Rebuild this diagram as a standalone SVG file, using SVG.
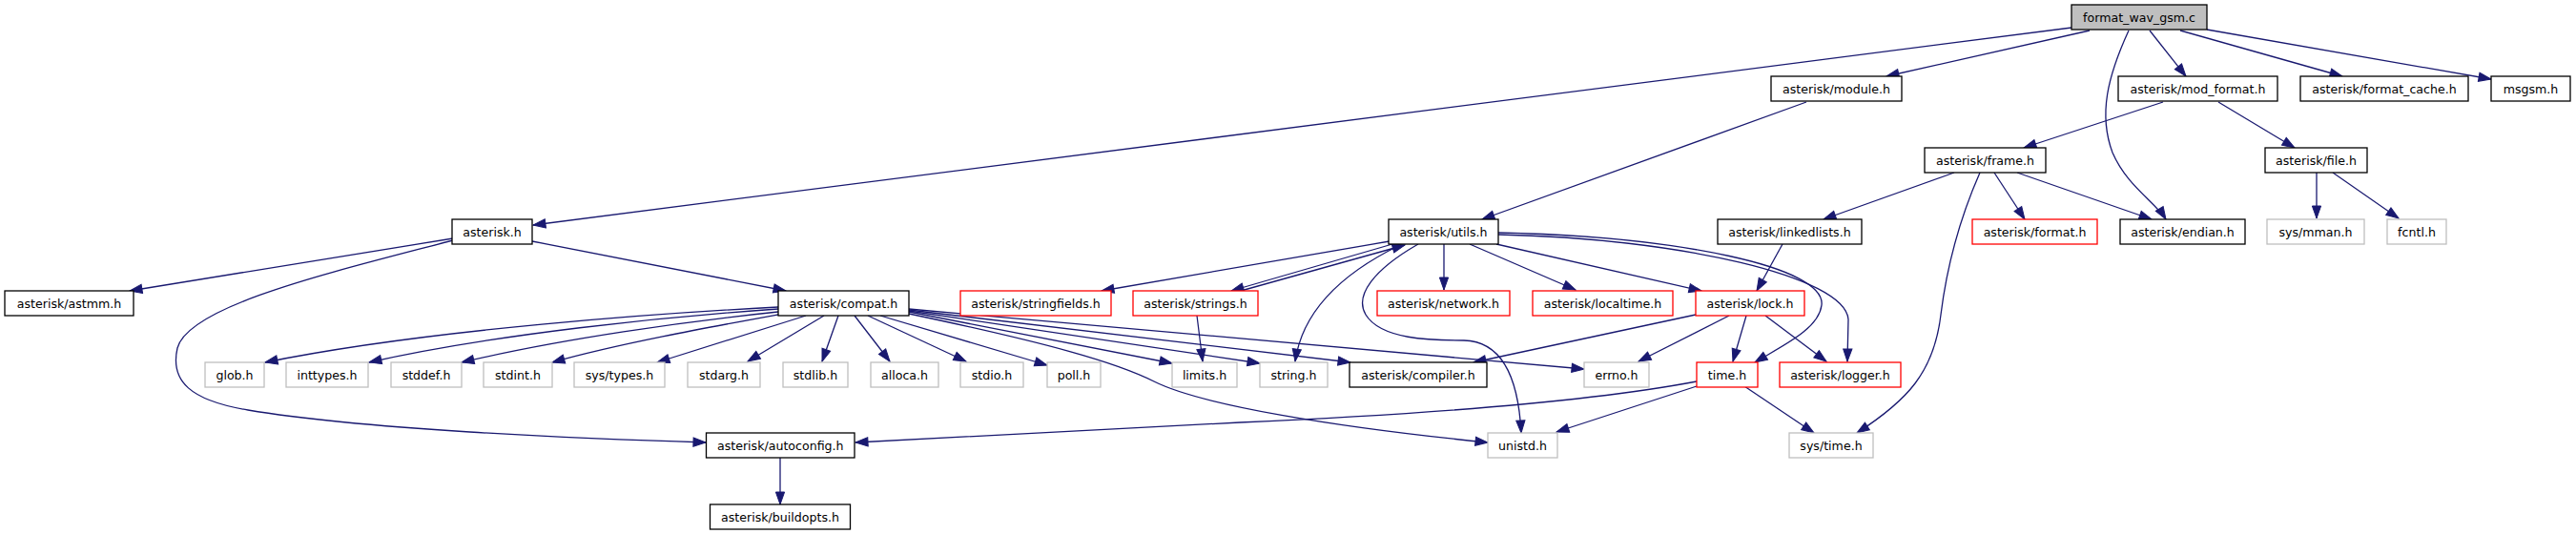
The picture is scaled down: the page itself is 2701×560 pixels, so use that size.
<svg xmlns="http://www.w3.org/2000/svg" width="2701" height="560" viewBox="0 0 2701 560">
<style>
.n rect{fill:#fff;stroke:#000;stroke-width:1.3}
.n.root rect{fill:#bfbfbf}
.n.red rect{stroke:#ff0000}
.n.gray rect{stroke:#bfbfbf}
.n text{font-family:"DejaVu Sans",sans-serif;font-size:12.6px;fill:#000;text-anchor:middle}
#edges path{fill:none;stroke:#191970;stroke-width:1.3;marker-end:url(#a)}
</style>
<defs>
<marker id="a" markerUnits="userSpaceOnUse" markerWidth="14" markerHeight="10" refX="13" refY="5" orient="auto" viewBox="0 0 14 10" overflow="visible">
<path d="M0,0.4 L13,5 L0,9.6z" fill="#191970" stroke="#191970" stroke-width="1"/>
</marker>
</defs>
<rect width="2701" height="560" fill="#fff"/>
<g id="edges">
<path d="M2172,29 L559,236"/>
<path d="M2191,32 L1978,80"/>
<path d="M2232,32 C2210,80 2200,120 2215,160 C2230,195 2260,212 2271,230"/>
<path d="M2254,32 L2292,80"/>
<path d="M2286,32 L2456,80"/>
<path d="M2314,31 L2612,83"/>
<path d="M1894,107 L1554,230"/>
<path d="M2268,107 L2122,155"/>
<path d="M2326,107 L2406,155"/>
<path d="M2049,181 L1912,230"/>
<path d="M2091,181 L2123,230"/>
<path d="M2115,181 L2256,230"/>
<path d="M2076,181 C2050,240 2040,290 2035,330 C2028,390 2000,420 1947,454"/>
<path d="M2429,181 L2429,229"/>
<path d="M2446,181 L2515,229"/>
<path d="M475,250 L136,305"/>
<path d="M558,253 L824,305"/>
<path d="M475,252 C350,285 198,320 186,365 C178,400 200,420 260,430 C380,450 600,460 740,464"/>
<path d="M1457,253 L1155,305"/>
<path d="M1460,256 L1291,305"/>
<path d="M1301,305 L1473,257"/>
<path d="M1468,257 C1400,290 1365,330 1358,379"/>
<path d="M1487,256 C1440,283 1420,310 1432,330 C1448,356 1500,357 1535,357 C1575,358 1592,395 1595,454"/>
<path d="M1514,256 L1514,304"/>
<path d="M1541,256 L1652,304"/>
<path d="M1569,256 L1784,305"/>
<path d="M1571,244 C1760,248 1915,280 1910,320 C1907,345 1870,362 1840,380"/>
<path d="M1571,246 C1760,250 1935,290 1938,335 L1937,379"/>
<path d="M1255,331 L1261,379"/>
<path d="M1869,256 L1842,305"/>
<path d="M1778,330 L1545,380"/>
<path d="M1813,331 L1718,379"/>
<path d="M1831,331 L1817,379"/>
<path d="M1851,331 L1915,379"/>
<path d="M1779,400 C1700,415 1550,432 1300,443 L897,464"/>
<path d="M1779,405 L1632,453"/>
<path d="M1829,405 L1902,454"/>
<path d="M816,322 C700,328 450,345 278,380"/>
<path d="M816,324 C700,332 520,350 387,380"/>
<path d="M816,327 C720,337 590,355 484,380"/>
<path d="M821,329 C750,342 650,360 579,380"/>
<path d="M845,331 L689,380"/>
<path d="M864,331 L784,379"/>
<path d="M879,331 L862,379"/>
<path d="M896,331 L933,379"/>
<path d="M910,331 L1013,379"/>
<path d="M923,331 L1098,383"/>
<path d="M953,327 L1229,381"/>
<path d="M953,326 L1321,381"/>
<path d="M953,325 L1416,380"/>
<path d="M953,324 L1661,387"/>
<path d="M953,329 C1100,360 1170,380 1210,400 C1260,425 1400,448 1560,464"/>
<path d="M818,480 L818,529"/>
</g>
<g id="n_fwg" class="n root"><rect x="2172" y="5" width="142" height="26"/><text x="2243" y="22.5">format_wav_gsm.c</text></g>
<g id="n_module" class="n"><rect x="1857" y="80" width="137" height="26"/><text x="1925.5" y="97.5">asterisk/module.h</text></g>
<g id="n_mod_format" class="n"><rect x="2221" y="80" width="167" height="26"/><text x="2304.5" y="97.5">asterisk/mod_format.h</text></g>
<g id="n_format_cache" class="n"><rect x="2412" y="80" width="176" height="26"/><text x="2500" y="97.5">asterisk/format_cache.h</text></g>
<g id="n_msgsm" class="n"><rect x="2612" y="80" width="83" height="26"/><text x="2653.5" y="97.5">msgsm.h</text></g>
<g id="n_frame" class="n"><rect x="2018" y="155" width="127" height="26"/><text x="2081.5" y="172.5">asterisk/frame.h</text></g>
<g id="n_file" class="n"><rect x="2375" y="155" width="107" height="26"/><text x="2428.5" y="172.5">asterisk/file.h</text></g>
<g id="n_asterisk" class="n"><rect x="474" y="230" width="84" height="26"/><text x="516" y="247.5">asterisk.h</text></g>
<g id="n_utils" class="n"><rect x="1456" y="230" width="115" height="26"/><text x="1513.5" y="247.5">asterisk/utils.h</text></g>
<g id="n_linkedlists" class="n"><rect x="1801" y="230" width="151" height="26"/><text x="1876.5" y="247.5">asterisk/linkedlists.h</text></g>
<g id="n_format" class="n red"><rect x="2068" y="230" width="131" height="26"/><text x="2133.5" y="247.5">asterisk/format.h</text></g>
<g id="n_endian" class="n"><rect x="2223" y="230" width="131" height="26"/><text x="2288.5" y="247.5">asterisk/endian.h</text></g>
<g id="n_mman" class="n gray"><rect x="2377" y="230" width="102" height="26"/><text x="2428" y="247.5">sys/mman.h</text></g>
<g id="n_fcntl" class="n gray"><rect x="2503" y="230" width="62" height="26"/><text x="2534" y="247.5">fcntl.h</text></g>
<g id="n_astmm" class="n"><rect x="5" y="305" width="135" height="26"/><text x="72.5" y="322.5">asterisk/astmm.h</text></g>
<g id="n_compat" class="n"><rect x="816" y="305" width="137" height="26"/><text x="884.5" y="322.5">asterisk/compat.h</text></g>
<g id="n_stringfields" class="n red"><rect x="1007" y="305" width="158" height="26"/><text x="1086" y="322.5">asterisk/stringfields.h</text></g>
<g id="n_strings" class="n red"><rect x="1188" y="305" width="131" height="26"/><text x="1253.5" y="322.5">asterisk/strings.h</text></g>
<g id="n_network" class="n red"><rect x="1444" y="305" width="139" height="26"/><text x="1513.5" y="322.5">asterisk/network.h</text></g>
<g id="n_localtime" class="n red"><rect x="1607" y="305" width="147" height="26"/><text x="1680.5" y="322.5">asterisk/localtime.h</text></g>
<g id="n_lock" class="n red"><rect x="1778" y="305" width="114" height="26"/><text x="1835" y="322.5">asterisk/lock.h</text></g>
<g id="n_glob" class="n gray"><rect x="215" y="380" width="62" height="26"/><text x="246" y="397.5">glob.h</text></g>
<g id="n_inttypes" class="n gray"><rect x="300" y="380" width="86" height="26"/><text x="343" y="397.5">inttypes.h</text></g>
<g id="n_stddef" class="n gray"><rect x="410" y="380" width="74" height="26"/><text x="447" y="397.5">stddef.h</text></g>
<g id="n_stdint" class="n gray"><rect x="507" y="380" width="72" height="26"/><text x="543" y="397.5">stdint.h</text></g>
<g id="n_systypes" class="n gray"><rect x="602" y="380" width="95" height="26"/><text x="649.5" y="397.5">sys/types.h</text></g>
<g id="n_stdarg" class="n gray"><rect x="721" y="380" width="76" height="26"/><text x="759" y="397.5">stdarg.h</text></g>
<g id="n_stdlib" class="n gray"><rect x="821" y="380" width="68" height="26"/><text x="855" y="397.5">stdlib.h</text></g>
<g id="n_alloca" class="n gray"><rect x="913" y="380" width="71" height="26"/><text x="948.5" y="397.5">alloca.h</text></g>
<g id="n_stdio" class="n gray"><rect x="1007" y="380" width="66" height="26"/><text x="1040" y="397.5">stdio.h</text></g>
<g id="n_poll" class="n gray"><rect x="1098" y="380" width="56" height="26"/><text x="1126" y="397.5">poll.h</text></g>
<g id="n_limits" class="n gray"><rect x="1229" y="380" width="68" height="26"/><text x="1263" y="397.5">limits.h</text></g>
<g id="n_string" class="n gray"><rect x="1321" y="380" width="71" height="26"/><text x="1356.5" y="397.5">string.h</text></g>
<g id="n_compiler" class="n"><rect x="1415" y="380" width="144" height="26"/><text x="1487" y="397.5">asterisk/compiler.h</text></g>
<g id="n_errno" class="n gray"><rect x="1661" y="380" width="68" height="26"/><text x="1695" y="397.5">errno.h</text></g>
<g id="n_time" class="n red"><rect x="1779" y="380" width="64" height="26"/><text x="1811" y="397.5">time.h</text></g>
<g id="n_logger" class="n red"><rect x="1866" y="380" width="127" height="26"/><text x="1929.5" y="397.5">asterisk/logger.h</text></g>
<g id="n_autoconfig" class="n"><rect x="740.5" y="454" width="155.5" height="26"/><text x="818.25" y="471.5">asterisk/autoconfig.h</text></g>
<g id="n_unistd" class="n gray"><rect x="1560" y="454" width="73" height="26"/><text x="1596.5" y="471.5">unistd.h</text></g>
<g id="n_systime" class="n gray"><rect x="1876" y="454" width="88" height="26"/><text x="1920" y="471.5">sys/time.h</text></g>
<g id="n_buildopts" class="n"><rect x="744.5" y="529" width="147" height="26"/><text x="818" y="546.5">asterisk/buildopts.h</text></g>
</svg>
